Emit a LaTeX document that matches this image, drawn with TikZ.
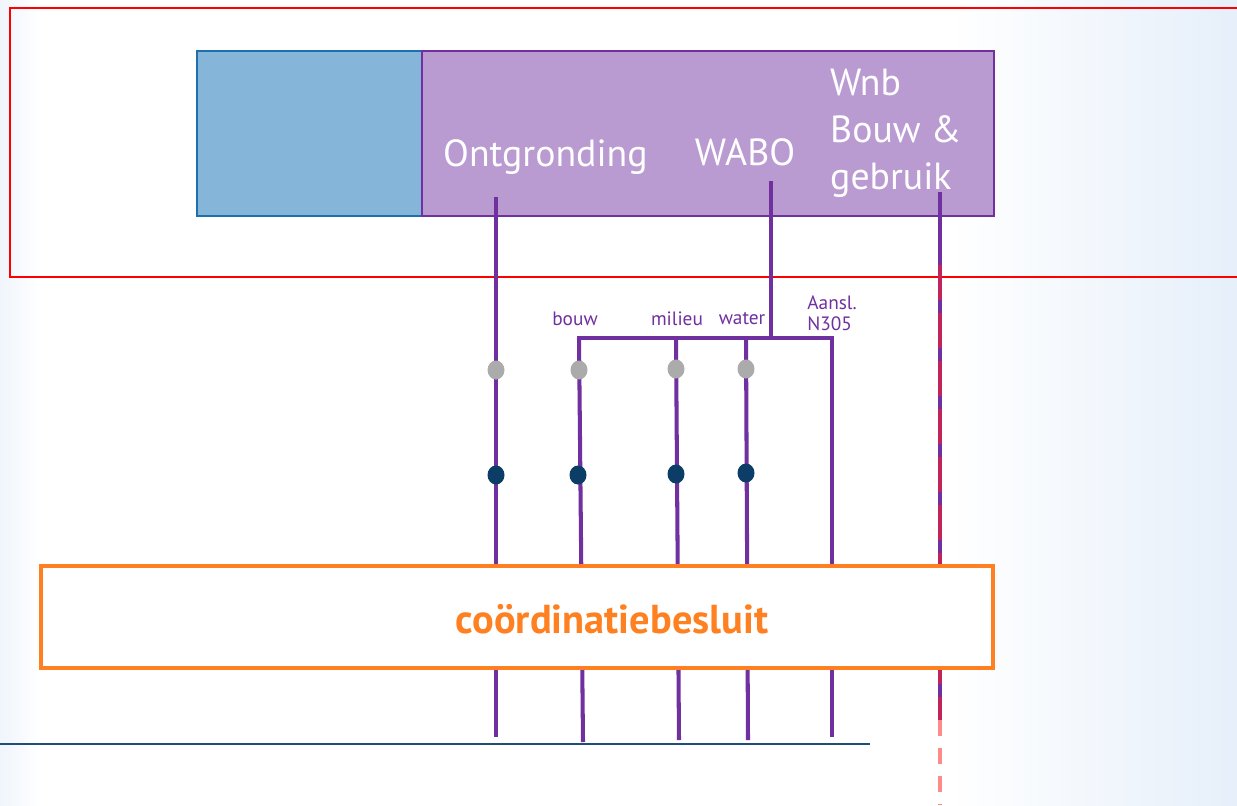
\documentclass[tikz,border=0pt]{standalone}
\usepackage{fontspec}
\setmainfont{PT Sans}
\usetikzlibrary{shapes.geometric}

\definecolor{paars}{HTML}{7030A0}
\definecolor{lichtpaars}{HTML}{B99BD1}
\definecolor{lichtblauw}{HTML}{85B5D9}
\definecolor{blauwrand}{HTML}{1F6FAF}
\definecolor{oranje}{HTML}{FF8021}
\definecolor{donkerblauw}{HTML}{0B3D66}
\definecolor{grijs}{HTML}{ABABAB}
\definecolor{karmijn}{HTML}{C0245A}
\definecolor{roze}{HTML}{FF8A8A}
\definecolor{lijnblauw}{HTML}{1F4E79}
\definecolor{achtergrond}{HTML}{E6EFFA}

\tikzset{
  lijn/.style={paars,line width=2.3pt},
  bolgrijs/.style={ellipse,fill=grijs,inner sep=0pt,minimum width=0.34cm,minimum height=0.38cm},
  bolblauw/.style={ellipse,fill=donkerblauw,inner sep=0pt,minimum width=0.34cm,minimum height=0.38cm},
  wit/.style={text=white,font=\fontsize{21.5}{26.7}\selectfont},
  klein/.style={text=paars,font=\fontsize{11}{12}\selectfont,inner sep=0pt}
}

\begin{document}
\begin{tikzpicture}[x=0.02cm,y=-0.02cm]

\fill[white] (0,0) rectangle (1237,805);
\shade[left color=white,right color=achtergrond] (950,0) rectangle (1237,805);
\shade[left color=achtergrond!60,right color=white] (0,0) rectangle (40,805);
\useasboundingbox (0,0) rectangle (1237,805);

% kaders
\draw[red,line width=1.3pt] (10,8) rectangle (1250,277);
\node[draw=blauwrand,fill=lichtblauw,line width=1.5pt,minimum width=4.5cm,minimum height=3.3cm] (blauw) at (309.5,133.5){};
\node[draw=paars,fill=lichtpaars,line width=1.5pt,minimum width=11.44cm,minimum height=3.3cm] (kader) at (708,133.5){};

\node[wit,anchor=west] (ont) at (437,157){Ontgronding};
\node[wit] (wabo) at (745,152){WABO};
\node[wit,anchor=west,align=left] (wnb) at (824,133){Wnb\\Bouw \&\\gebruik};

% kleine labels
\node[klein] (bouw) at (575,319){bouw};
\node[klein] (milieu) at (677,319){milieu};
\node[klein] (water) at (742,319){water};
\node[klein,anchor=west,align=left] (aansl) at (807,313){Aansl.\\N305};

% punten
\coordinate (o1) at (496,197);
\coordinate (o2) at (496,737);
\coordinate (w1) at (771,181);
\coordinate (w2) at (771,338);
\coordinate (b1) at (579,338);
\coordinate (b2) at (583,742);
\coordinate (m1) at (676,338);
\coordinate (m2) at (679,740);
\coordinate (a1) at (746,338);
\coordinate (a2) at (748,740);
\coordinate (n1) at (832,338);
\coordinate (n2) at (832,737);
\coordinate (g1) at (940,192);
\coordinate (g2) at (940,265);
\coordinate (g3) at (940,720);
\coordinate (g4) at (940,805);

\draw[lijn] (o1) -- (o2);
\draw[lijn] (w1) -- (w2);
\draw[lijn,line cap=rect] (b1) -- (n1);
\draw[lijn] (b1) -- (b2);
\draw[lijn] (m1) -- (m2);
\draw[lijn] (a1) -- (a2);
\draw[lijn] (n1) -- (n2);
\draw[lijn] (g1) -- (g3);
\draw[karmijn,line width=2.3pt,dash pattern=on 0.7cm off 0.26cm] (g2) -- (g3);
\draw[roze,line width=2.3pt,dash pattern=on 0.32cm off 0.24cm] (g3) -- (g4);

\node[bolgrijs] (p1) at (496,370){};
\node[bolgrijs] (p2) at (579,370){};
\node[bolgrijs] (p3) at (676,369){};
\node[bolgrijs] (p4) at (746,369){};
\node[bolblauw] (q1) at (496,475){};
\node[bolblauw] (q2) at (578,475){};
\node[bolblauw] (q3) at (676,474){};
\node[bolblauw] (q4) at (746,473){};

% besluit
\node[draw=oranje,fill=white,line width=2.2pt,minimum width=19.04cm,minimum height=2.04cm] (besluit) at (517,617){};
\node[text=oranje,font=\fontsize{23}{26}\selectfont\bfseries] (tekst) at (612,619){coördinatiebesluit};

\draw[lijnblauw,line width=1.3pt] (0,744) -- (870,744);

\end{tikzpicture}
\end{document}
